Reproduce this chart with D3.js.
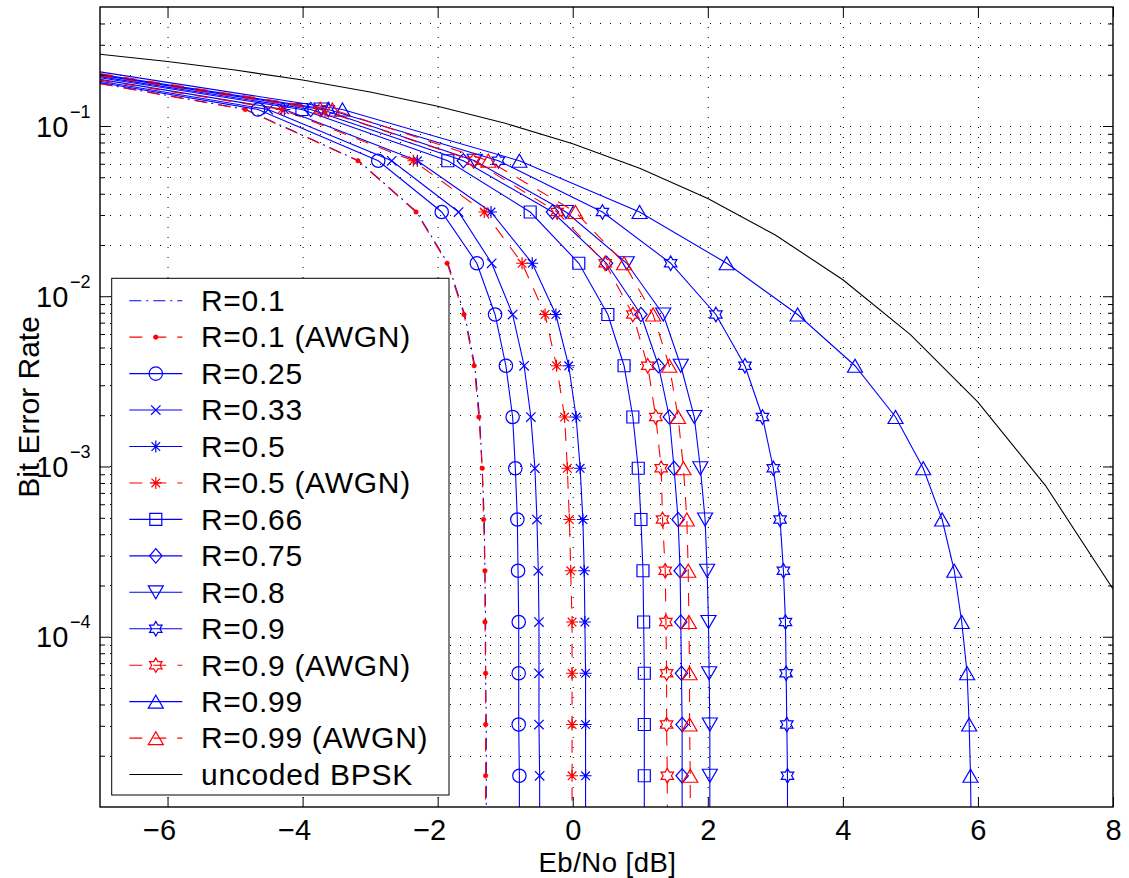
<!DOCTYPE html>
<html><head><meta charset="utf-8">
<script src="https://cdn.jsdelivr.net/npm/d3@7"></script>
<style>
html,body{margin:0;padding:0;background:#fff;}
svg{display:block;font-family:"Liberation Sans",Arial,Helvetica,sans-serif;}
</style></head><body>
<svg id="chart" width="1129" height="878"></svg>
<script>
// ---------------- DATA ----------------
// Bit error rate levels at which each coded curve was sampled (halving steps)
const berLevels = [0.125, 0.0625, 0.03125, 0.015625, 0.0078125, 0.00390625,
  0.001953125, 0.0009765625, 0.00048828125, 0.000244140625, 0.0001220703125,
  0.00006103515625, 0.000030517578125, 0.0000152587890625, 0.00000762939453125];

// Eb/No [dB] of each curve at those BER levels
const ebnoR010   = [-4.84,-3.17,-2.31,-1.85,-1.60,-1.45,-1.38,-1.34,-1.31,-1.30,-1.29,-1.29,-1.28,-1.28,-1.28];
const ebnoR010A  = [-4.85,-3.18,-2.32,-1.86,-1.61,-1.46,-1.39,-1.34,-1.32,-1.30,-1.30,-1.29,-1.29,-1.29,-1.29];
const ebnoR025   = [-4.66,-2.88,-1.94,-1.42,-1.15,-0.99,-0.89,-0.85,-0.82,-0.81,-0.80,-0.80,-0.80,-0.79,-0.79];
const ebnoR033   = [-4.51,-2.68,-1.69,-1.20,-0.89,-0.72,-0.62,-0.56,-0.53,-0.51,-0.50,-0.50,-0.50,-0.49,-0.49];
const ebnoR050   = [-4.27,-2.30,-1.21,-0.60,-0.25,-0.06,0.05,0.11,0.15,0.17,0.18,0.19,0.19,0.19,0.19];
const ebnoR050A  = [-4.31,-2.36,-1.31,-0.75,-0.41,-0.24,-0.12,-0.08,-0.05,-0.03,-0.01,-0.01,-0.01,-0.01,-0.01];
const ebnoR066   = [-4.01,-1.85,-0.63,0.09,0.52,0.76,0.89,0.97,1.01,1.04,1.05,1.06,1.06,1.06,1.06];
const ebnoR075   = [-3.88,-1.62,-0.30,0.50,1.01,1.27,1.43,1.50,1.56,1.59,1.60,1.61,1.62,1.62,1.62];
const ebnoR080   = [-3.72,-1.45,-0.10,0.80,1.34,1.60,1.80,1.89,1.96,1.99,2.01,2.02,2.03,2.03,2.03];
const ebnoR090   = [-3.62,-1.10,0.44,1.45,2.12,2.55,2.81,2.97,3.07,3.12,3.15,3.16,3.17,3.18,3.18];
const ebnoR090A  = [-3.74,-1.47,-0.23,0.48,0.89,1.11,1.23,1.31,1.33,1.37,1.38,1.39,1.39,1.40,1.40];
const ebnoR099   = [-3.41,-0.79,0.99,2.28,3.33,4.18,4.78,5.19,5.47,5.65,5.76,5.84,5.87,5.89,5.90];
const ebnoR099A  = [-3.56,-1.25,0.04,0.76,1.19,1.43,1.56,1.64,1.69,1.71,1.72,1.73,1.73,1.74,1.74];

// BER of each curve where it enters the plot at the left edge (Eb/No = -7 dB)
const leftEdgeEbno = -7;
const startBER = {R010:0.178, R010A:0.177, R025:0.180, R033:0.183, R050:0.188, R050A:0.186,
  R066:0.192, R075:0.195, R080:0.199, R090:0.201, R090A:0.197, R099:0.208, R099A:0.203};

// Uncoded BPSK reference curve
const bpskEbno = [-7,-6,-5,-4,-3,-2,-1,0,1,2,3,4,5,6,7,8];
const bpskBER  = [0.2638,0.2392,0.2132,0.1861,0.1584,0.1306,0.1038,0.0786,0.0563,0.0375,0.0229,0.0125,0.00595,0.00239,0.000773,0.000191];

// Axis ticks
const xTickValues = [-6,-4,-2,0,2,4,6,8];
const yMajorTicks = [1e-4,1e-3,1e-2,1e-1];
const yMajorExp   = [-4,-3,-2,-1];

const legendLabels = ["R=0.1","R=0.1 (AWGN)","R=0.25","R=0.33","R=0.5","R=0.5 (AWGN)","R=0.66",
  "R=0.75","R=0.8","R=0.9","R=0.9 (AWGN)","R=0.99","R=0.99 (AWGN)","uncoded BPSK"];

// ---------------- STYLES ----------------
const BLUE="#0000ff", RED="#ff0000";
const DASH="13,11", DASHDOT="12,5,2,5";
const series = [
  {key:"R010", xs:ebnoR010,  color:BLUE, dash:DASHDOT, marker:null},
  {key:"R010A",xs:ebnoR010A, color:RED,  dash:DASH,    marker:"."},
  {key:"R025", xs:ebnoR025,  color:BLUE, dash:null,    marker:"o"},
  {key:"R033", xs:ebnoR033,  color:BLUE, dash:null,    marker:"x"},
  {key:"R050", xs:ebnoR050,  color:BLUE, dash:null,    marker:"*"},
  {key:"R050A",xs:ebnoR050A, color:RED,  dash:DASH,    marker:"*"},
  {key:"R066", xs:ebnoR066,  color:BLUE, dash:null,    marker:"s"},
  {key:"R075", xs:ebnoR075,  color:BLUE, dash:null,    marker:"d"},
  {key:"R080", xs:ebnoR080,  color:BLUE, dash:null,    marker:"v"},
  {key:"R090", xs:ebnoR090,  color:BLUE, dash:null,    marker:"h"},
  {key:"R090A",xs:ebnoR090A, color:RED,  dash:DASH,    marker:"h"},
  {key:"R099", xs:ebnoR099,  color:BLUE, dash:null,    marker:"^"},
  {key:"R099A",xs:ebnoR099A, color:RED,  dash:DASH,    marker:"^"}
];

// ---------------- CHART ----------------
const W=1129, H=878;
const M={l:100, r:1113, t:7, b:807};
const x=d3.scaleLinear().domain([-7,8]).range([M.l,M.r]);
const y=d3.scaleLog().domain([1e-5,0.5]).range([M.b,M.t]);

const svg=d3.select("#chart");
svg.append("rect").attr("width",W).attr("height",H).attr("fill","#fff");
svg.append("defs").append("clipPath").attr("id","clip").append("rect")
  .attr("x",M.l).attr("y",M.t).attr("width",M.r-M.l).attr("height",M.b-M.t);

// minor y ticks (2..9 x decade) inside domain
const yMinorTicks=[];
[-5,-4,-3,-2,-1].forEach(e=>{ for(let m=2;m<=9;m++){ const v=m*Math.pow(10,e); if(v<0.5-1e-9) yMinorTicks.push(v);} });

// grid
const grid=svg.append("g").attr("stroke","#000").attr("stroke-width",1).attr("stroke-dasharray","1,9");
grid.selectAll("line.v").data(xTickValues.filter(d=>d<8)).join("line").attr("class","v")
  .attr("x1",d=>x(d)+0.5).attr("x2",d=>x(d)+0.5).attr("y1",M.t).attr("y2",M.b);
grid.selectAll("line.h").data(yMajorTicks.concat(yMinorTicks)).join("line").attr("class","h")
  .attr("x1",M.l).attr("x2",M.r).attr("y1",d=>Math.round(y(d))+0.5).attr("y2",d=>Math.round(y(d))+0.5);

// marker shapes
function markerPath(type){
  const p=d3.path();
  switch(type){
    case "o": p.moveTo(6.7,0); p.arc(0,0,6.7,0,2*Math.PI); break;
    case "x": p.moveTo(-4.7,-4.7);p.lineTo(4.7,4.7);p.moveTo(-4.7,4.7);p.lineTo(4.7,-4.7); break;
    case "*": p.moveTo(-6,0);p.lineTo(6,0);p.moveTo(0,-6);p.lineTo(0,6);
              p.moveTo(-4.3,-4.3);p.lineTo(4.3,4.3);p.moveTo(-4.3,4.3);p.lineTo(4.3,-4.3); break;
    case "s": p.rect(-6,-6,12,12); break;
    case "d": p.moveTo(0,-7.2);p.lineTo(6.2,0);p.lineTo(0,7.2);p.lineTo(-6.2,0);p.closePath(); break;
    case "v": p.moveTo(-7.5,-6.5);p.lineTo(7.5,-6.5);p.lineTo(0,6.5);p.closePath(); break;
    case "^": p.moveTo(-7.5,6.5);p.lineTo(7.5,6.5);p.lineTo(0,-6.5);p.closePath(); break;
    case "h": {
      const R=7.2, r=R/Math.sqrt(3);
      for(let k=0;k<12;k++){
        const a=-Math.PI/2+k*Math.PI/6, rr=(k%2===0)?R:r;
        const px=rr*Math.cos(a), py=rr*Math.sin(a);
        if(k===0)p.moveTo(px,py); else p.lineTo(px,py);
      }
      p.closePath(); break;
    }
    case ".": p.moveTo(2.3,0); p.arc(0,0,2.3,0,2*Math.PI); break;
  }
  return p.toString();
}

const plot=svg.append("g").attr("clip-path","url(#clip)");
const line=d3.line().x(d=>x(d[0])).y(d=>y(d[1]));

series.forEach(s=>{
  const pts=[[leftEdgeEbno,startBER[s.key]]].concat(s.xs.map((v,i)=>[v,berLevels[i]]));
  plot.append("path").datum(pts).attr("d",line).attr("fill","none")
    .attr("stroke",s.color).attr("stroke-width",1.1)
    .attr("stroke-dasharray",s.dash);
  if(s.marker){
    plot.append("g").selectAll("path").data(s.xs.map((v,i)=>[v,berLevels[i]])).join("path")
      .attr("transform",d=>`translate(${x(d[0])},${y(d[1])})`)
      .attr("d",markerPath(s.marker))
      .attr("fill",s.marker==="."?s.color:"none")
      .attr("stroke",s.color).attr("stroke-width",s.marker==="."?0.5:1.2);
  }
});
plot.append("path").datum(bpskEbno.map((v,i)=>[v,bpskBER[i]])).attr("d",line)
  .attr("fill","none").attr("stroke","#000").attr("stroke-width",1.1);

// axes (ticks inward)
function styleAxis(g){ g.select(".domain").remove(); g.selectAll(".tick line").attr("stroke","#000").attr("stroke-width",1); }
const gx=svg.append("g").attr("transform",`translate(0,${M.b})`)
  .call(d3.axisBottom(x).tickValues(xTickValues).tickSize(-10).tickPadding(12.5));
styleAxis(gx);
gx.selectAll(".tick text").attr("font-size",29).attr("font-family","Liberation Sans, Arial, sans-serif")
  .attr("fill","#000")
  .attr("text-anchor",d=>d<0?"end":"middle")
  .attr("dx",d=>d<0?"0.278em":null);
svg.append("g").attr("transform",`translate(0,${M.t})`)
  .call(d3.axisTop(x).tickValues(xTickValues).tickSize(-10).tickFormat(""))
  .call(styleAxis);
svg.append("g").attr("transform",`translate(${M.l},0)`)
  .call(d3.axisLeft(y).tickValues(yMajorTicks).tickSize(-10).tickFormat("")).call(styleAxis);
svg.append("g").attr("transform",`translate(${M.l},0)`)
  .call(d3.axisLeft(y).tickValues(yMinorTicks).tickSize(-5).tickFormat("")).call(styleAxis);
svg.append("g").attr("transform",`translate(${M.r},0)`)
  .call(d3.axisRight(y).tickValues(yMajorTicks).tickSize(-10).tickFormat("")).call(styleAxis);
svg.append("g").attr("transform",`translate(${M.r},0)`)
  .call(d3.axisRight(y).tickValues(yMinorTicks).tickSize(-5).tickFormat("")).call(styleAxis);

// y tick labels 10^k
const yl=svg.append("g").attr("fill","#000");
yMajorTicks.forEach((v,i)=>{
  yl.append("text").attr("x",68.3).attr("y",y(v)+10.6).attr("font-size",29).attr("text-anchor","end").text("10");
  yl.append("text").attr("x",70).attr("y",y(v)-8.4).attr("font-size",18).text("\u2212"+Math.abs(yMajorExp[i]));
});

// frame
svg.append("rect").attr("x",M.l).attr("y",M.t).attr("width",M.r-M.l).attr("height",M.b-M.t)
  .attr("fill","none").attr("stroke","#000").attr("stroke-width",1.4);

// axis labels
svg.append("text").attr("x",(M.l+M.r)/2+1).attr("y",871.6).attr("text-anchor","middle")
  .attr("font-size",27.5).attr("letter-spacing",0.5).text("Eb/No [dB]");
svg.append("text").attr("transform",`translate(39,${(M.t+M.b)/2}) rotate(-90)`).attr("text-anchor","middle")
  .attr("font-size",30).text("Bit Error Rate");

// legend
const lg=svg.append("g");
lg.append("rect").attr("x",111.7).attr("y",278.3).attr("width",337.3).attr("height",516.7)
  .attr("fill","#fff").attr("stroke","#000").attr("stroke-width",1);
const legendStyles = series.map(s=>({color:s.color,dash:s.dash,marker:s.marker})).concat([{color:"#000",dash:null,marker:null}]);
legendLabels.forEach((lab,i)=>{
  const ry=300.7+i*36.45, st=legendStyles[i];
  lg.append("line").attr("x1",129.3).attr("x2",182.3).attr("y1",ry).attr("y2",ry)
    .attr("stroke",st.color).attr("stroke-width",1.1).attr("stroke-dasharray",st.dash);
  if(st.marker){
    lg.append("path").attr("transform",`translate(155.8,${ry})`).attr("d",markerPath(st.marker))
      .attr("fill",st.marker==="."?st.color:"none").attr("stroke",st.color)
      .attr("stroke-width",st.marker==="."?0.5:1.2);
  }
  lg.append("text").attr("x",201).attr("y",ry+10.3).attr("font-size",30)
    .attr("letter-spacing",0.7).attr("fill","#000").text(lab);
});
</script>
</body></html>
